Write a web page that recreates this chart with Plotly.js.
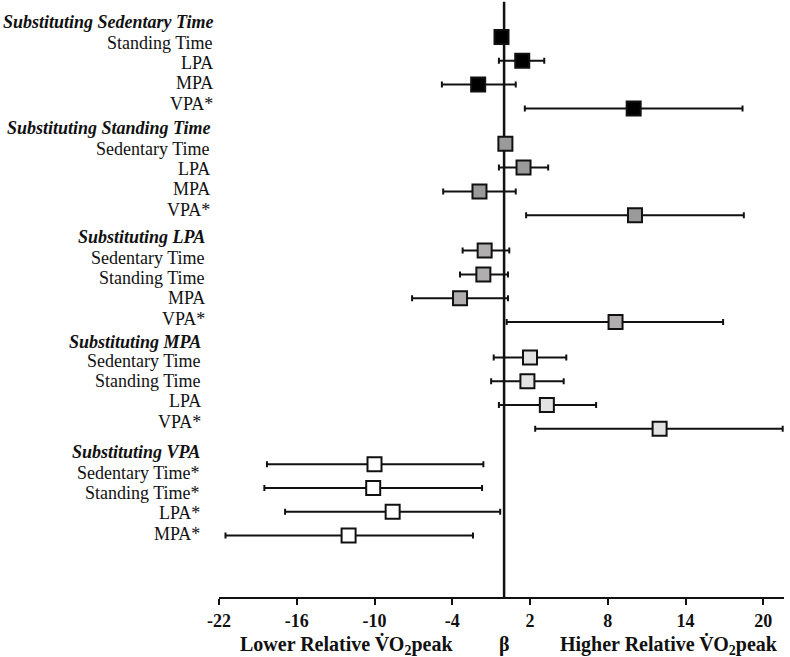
<!DOCTYPE html>
<html>
<head>
<meta charset="utf-8">
<script src="https://cdn.plot.ly/plotly-3.0.1.min.js"></script>
<style>html,body{margin:0;padding:0;background:#fff;}#chart{width:790px;height:657px;}</style>
</head>
<body>
<div id="chart"></div>
<script>
// ---- data ----
var groupTitles = ['Substituting Sedentary Time', 'Substituting Standing Time', 'Substituting LPA', 'Substituting MPA', 'Substituting VPA'];
var labelsSedentary = ['Standing Time', 'LPA', 'MPA', 'VPA*'];
var labelsStanding = ['Sedentary Time', 'LPA', 'MPA', 'VPA*'];
var labelsLPA = ['Sedentary Time', 'Standing Time', 'MPA', 'VPA*'];
var labelsMPA = ['Sedentary Time', 'Standing Time', 'LPA', 'VPA*'];
var labelsVPA = ['Sedentary Time*', 'Standing Time*', 'LPA*', 'MPA*'];

var betaSedentary = [-0.2, 1.4, -2.0, 10.0];
var lowSedentary  = [-0.5, -0.4, -4.8, 1.6];
var highSedentary = [0.1, 3.1, 0.9, 18.4];

var betaStanding = [0.1, 1.5, -1.9, 10.1];
var lowStanding  = [-0.3, -0.4, -4.7, 1.7];
var highStanding = [0.5, 3.4, 0.9, 18.5];

var betaLPA = [-1.5, -1.6, -3.4, 8.6];
var lowLPA  = [-3.2, -3.4, -7.1, 0.2];
var highLPA = [0.4, 0.3, 0.3, 16.9];

var betaMPA = [2.0, 1.8, 3.3, 12.0];
var lowMPA  = [-0.8, -1.0, -0.4, 2.4];
var highMPA = [4.8, 4.6, 7.1, 21.5];

var betaVPA = [-10.0, -10.1, -8.6, -12.0];
var lowVPA  = [-18.3, -18.5, -16.9, -21.5];
var highVPA = [-1.6, -1.7, -0.3, -2.4];

var xTickVals = [-22, -16, -10, -4, 2, 8, 14, 20];
var xTickText = ['-22', '-16', '-10', '-4', '2', '8', '14', '20'];

// ---- styling / layout ----
var fills = ['#000000', '#9a9a9a', '#b1aeb0', '#e3e3e3', '#ffffff'];
var labelRight = [215, 212, 207, 203, 202];
var headerPix = [22, 128, 237, 342, 452];
var betas = [betaSedentary, betaStanding, betaLPA, betaMPA, betaVPA];
var lows = [lowSedentary, lowStanding, lowLPA, lowMPA, lowVPA];
var highs = [highSedentary, highStanding, highLPA, highMPA, highVPA];
var labels = [labelsSedentary, labelsStanding, labelsLPA, labelsMPA, labelsVPA];

var L = 219, W = 565, PH = 597;
var font = 'Liberation Serif, Times New Roman, serif';
function markerY(g, i) { return 37 + 106.8 * g + 23.8 * i; }
function itemY(g, i) { return headerPix[g] + 21 + 20.2 * i - (g === 3 ? 2 : 0); }

var traces = [];
var annotations = [];
for (var g = 0; g < 5; g++) {
  var b = betas[g];
  var ys = b.map(function (v, i) { return markerY(g, i); });
  traces.push({
    type: 'scatter', mode: 'markers',
    x: b, y: ys,
    error_x: {
      type: 'data', symmetric: false,
      array: highs[g].map(function (h, i) { return h - b[i]; }),
      arrayminus: lows[g].map(function (l, i) { return b[i] - l; }),
      color: '#111', thickness: 2, width: 3
    },
    marker: { symbol: 'square', size: 14, color: fills[g], line: { color: '#111', width: 2 } },
    cliponaxis: false,
    hoverinfo: 'skip', showlegend: false
  });
  var xr = (labelRight[g] - L) / W;
  annotations.push({
    xref: 'paper', yref: 'y', x: xr, y: headerPix[g], xanchor: 'right', yanchor: 'middle',
    text: '<b><i>' + groupTitles[g] + '</i></b>', showarrow: false,
    font: { family: font, size: 18, color: '#111' }
  });
  labels[g].forEach(function (t, i) {
    annotations.push({
      xref: 'paper', yref: 'y', x: xr, y: itemY(g, i), xanchor: 'right', yanchor: 'middle',
      text: t, showarrow: false,
      font: { family: font, size: 18, color: '#111' }
    });
  });
}

var by = (PH - 645) / PH;
annotations.push({ xref: 'x', yref: 'paper', x: -12.2, y: by, yanchor: 'middle', showarrow: false,
  text: '<b>Lower Relative V\u0307O<sub>2</sub>peak</b>', font: { family: font, size: 20, color: '#111' } });
annotations.push({ xref: 'x', yref: 'paper', x: 0, y: by, yanchor: 'middle', showarrow: false,
  text: '<b>\u03b2</b>', font: { family: font, size: 20, color: '#111' } });
annotations.push({ xref: 'x', yref: 'paper', x: 12.7, y: by, yanchor: 'middle', showarrow: false,
  text: '<b>Higher Relative V\u0307O<sub>2</sub>peak</b>', font: { family: font, size: 20, color: '#111' } });

var layout = {
  width: 790, height: 657,
  margin: { l: L, r: 790 - L - W, t: 0, b: 60 },
  paper_bgcolor: '#fff', plot_bgcolor: '#fff',
  showlegend: false,
  xaxis: {
    range: [-22, 21.6], fixedrange: true,
    tickvals: xTickVals, ticktext: xTickText.map(function (t) { return '<b>' + t + '</b>'; }),
    showline: true, linecolor: '#111', linewidth: 2,
    ticks: 'outside', ticklen: 6, tickwidth: 2, tickcolor: '#111',
    showgrid: false, zeroline: false,
    tickfont: { family: font, size: 18, color: '#111' }
  },
  yaxis: {
    range: [PH, 0], fixedrange: true, visible: false,
    showgrid: false, zeroline: false
  },
  shapes: [{
    type: 'line', xref: 'x', yref: 'paper', x0: 0, x1: 0, y0: 0, y1: 0.997,
    line: { color: '#111', width: 2.5 }, layer: 'below'
  }],
  annotations: annotations
};

Plotly.newPlot('chart', traces, layout, { staticPlot: true, displayModeBar: false });
</script>
</body>
</html>
